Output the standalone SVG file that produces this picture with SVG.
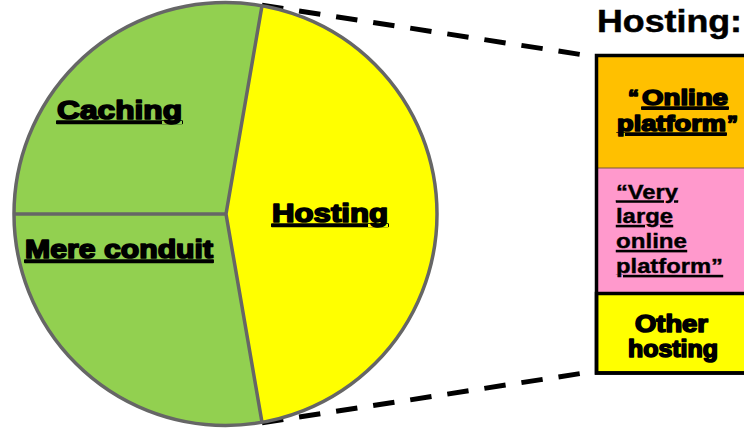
<svg xmlns="http://www.w3.org/2000/svg" width="744" height="433" viewBox="0 0 744 433">
  <style>
    .t { font-family: "Liberation Sans", Arial, sans-serif; font-weight: bold; fill: #000; }
    .heavy { stroke: #000; stroke-width: 1.6; stroke-linejoin: round; }
    .u { text-decoration: underline; }
    .edge { fill: none; stroke: #666666; stroke-width: 3.5; stroke-linejoin: round; }
    .dash { stroke: #000; stroke-width: 5; stroke-dasharray: 21.5 16; fill: none; }
    .box { stroke: #000; stroke-width: 3.5; }
  </style>
  <rect width="744" height="433" fill="#ffffff"/>

  <g id="connectors">
    <line class="dash" x1="262" y1="5.2" x2="596" y2="56.9"/>
    <line class="dash" x1="262" y1="422.8" x2="596" y2="371.1"/>
  </g>

  <g id="pie">
    <circle cx="225.5" cy="214" r="211.5" fill="#92D050"/>
    <path d="M262,5.7 L226,214 L262,422.3 A211.5,211.5 0 0 0 262,5.7 Z" fill="#FFFF00"/>
    <line class="edge" x1="14" y1="214" x2="226" y2="214"/>
    <polyline class="edge" points="262,5.7 226,214 262,422.3"/>
    <circle class="edge" cx="225.5" cy="214" r="211.5"/>
    <g id="caching">
      <text class="t heavy u" x="57" y="119" font-size="25" textLength="125" lengthAdjust="spacingAndGlyphs">Caching</text>
    </g>
    <g id="mere-conduit">
      <text class="t heavy u" x="25" y="258" font-size="25" textLength="188" lengthAdjust="spacingAndGlyphs">Mere conduit</text>
    </g>
    <g id="hosting-slice">
      <text class="t heavy u" x="272" y="222" font-size="25" textLength="116" lengthAdjust="spacingAndGlyphs">Hosting</text>
    </g>
  </g>

  <g id="hosting-title">
    <text class="t" x="597" y="32" font-size="31" stroke="#000" stroke-width="0.5" textLength="145" lengthAdjust="spacingAndGlyphs">Hosting:</text>
  </g>

  <g id="online-platform">
    <rect x="596.5" y="55.5" width="160" height="112.5" fill="#FFC000"/>
    <text class="t heavy" font-size="22"><tspan x="628" y="105">“</tspan><tspan class="u" x="642" y="105" textLength="86" lengthAdjust="spacingAndGlyphs">Online</tspan><tspan x="617" y="131" class="u" textLength="109" lengthAdjust="spacingAndGlyphs">platform</tspan><tspan x="727" y="131">”</tspan></text>
  </g>

  <g id="vlop">
    <rect x="596.5" y="168" width="160" height="125" fill="#FF99CC"/>
    <line x1="596.5" y1="168" x2="756" y2="168" stroke="#7a5a3a" stroke-width="1"/>
    <text class="t u" font-size="21" stroke="#000" stroke-width="0.4"><tspan x="616" y="198.5" textLength="62" lengthAdjust="spacingAndGlyphs">“Very</tspan><tspan x="616" y="223" textLength="57" lengthAdjust="spacingAndGlyphs">large</tspan><tspan x="616" y="248" textLength="71" lengthAdjust="spacingAndGlyphs">online</tspan><tspan x="616" y="273" textLength="107" lengthAdjust="spacingAndGlyphs">platform”</tspan></text>
  </g>

  <g id="other-hosting">
    <rect class="box" x="596.5" y="293.5" width="160" height="79.5" fill="#FFFF00"/>
    <text class="t heavy" font-size="23"><tspan x="635" y="332" textLength="73" lengthAdjust="spacingAndGlyphs">Other</tspan><tspan x="628" y="357" textLength="90" lengthAdjust="spacingAndGlyphs">hosting</tspan></text>
  </g>

  <rect class="box" x="596.5" y="55.5" width="160" height="317.5" fill="none"/>
</svg>
